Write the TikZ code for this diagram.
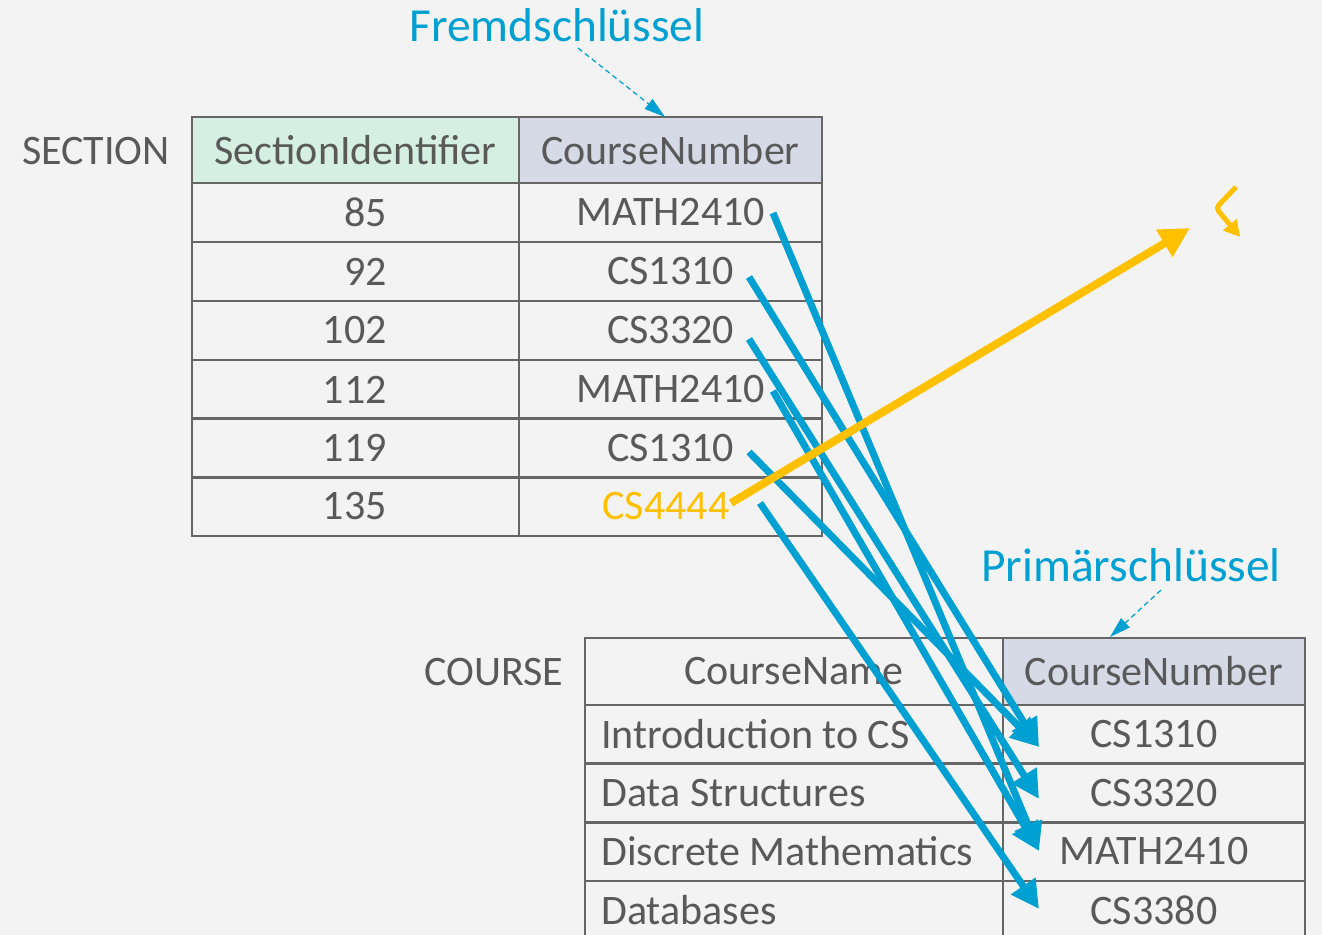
\documentclass[tikz,border=0pt]{standalone}
\usepackage{fontspec}
\setmainfont{Carlito}
\usetikzlibrary{arrows.meta}

\definecolor{keyblue}{RGB}{0,160,210}
\definecolor{badyellow}{RGB}{255,192,0}
\definecolor{textgray}{RGB}{89,89,89}
\definecolor{gridgray}{RGB}{102,102,102}
\definecolor{bggray}{RGB}{243,243,243}
\definecolor{pkgreen}{RGB}{213,240,227}
\definecolor{fklavender}{RGB}{214,218,230}

\tikzset{
  txt/.style={inner sep=0pt, text=textgray, font=\fontsize{23.9}{28}\selectfont},
  cell/.style={txt, draw=gridgray, line width=1.4pt, minimum height=1.18cm},
  keylabel/.style={inner sep=0pt, text=keyblue, font=\fontsize{27}{32}\selectfont},
  callout/.style={keyblue, line width=0.7pt, dash pattern=on 3pt off 2pt,
    -{Triangle[length=0.42cm, width=0.25cm]}},
  fkref/.style={keyblue, line width=0.14cm, -{Triangle[length=0.56cm, width=0.56cm]}},
  badref/.style={badyellow, line width=0.16cm, -{Triangle[length=0.6cm, width=0.6cm]}},
  badsign/.style={badyellow, line width=0.1cm, rounded corners=0.08cm,
    -{Triangle[length=0.32cm, width=0.34cm]}}
}

\begin{document}
\begin{tikzpicture}[x=0.02cm, y=-0.02cm]
  \clip (0,0) rectangle (1322,935);
  \fill[bggray] (0,0) rectangle (1322,935);

  % table SECTION
  \node[txt] (seclabel) at (96,151) {SECTION};
  \node[cell, minimum width=6.54cm, minimum height=1.32cm, fill=pkgreen] (sechead1) at (355.5,150) {SectionIdentifier};
  \node[cell, minimum width=6.06cm, minimum height=1.32cm, fill=fklavender] (sechead2) at (670.5,150) {CourseNumber};
  \foreach \i/\sid/\cn/\y in {1/85/MATH2410/212.5, 2/92/CS1310/271.5, 3/102/CS3320/330.5,
                             4/112/MATH2410/389.5, 5/119/CS1310/448} {
    \node[cell, minimum width=6.54cm] (secid\i) at (355.5,\y) {};
    \node[txt, anchor=east] (secidtext\i) at (387,\y) {\sid};
    \node[cell, minimum width=6.06cm] (seccn\i) at (670.5,\y) {\cn};
  }
  \node[cell, minimum width=6.54cm] (secid6) at (355.5,506.5) {};
  \node[txt, anchor=east] (secidtext6) at (387,506.5) {135};
  \node[cell, minimum width=6.06cm] (seccn6) at (670.5,506.5) {};
  \node[txt, text=badyellow] (secbad) at (666,506.5) {CS4444};

  % table COURSE
  \node[txt] (courselabel) at (494,672) {COURSE};
  \node[cell, minimum width=8.36cm, minimum height=1.34cm] (coursehead1) at (794,671.5) {CourseName};
  \node[cell, minimum width=6.04cm, minimum height=1.34cm, fill=fklavender] (coursehead2) at (1154,671.5) {CourseNumber};
  \foreach \i/\cname/\cn/\y in {1/Introduction to CS/CS1310/734.5, 2/Data Structures/CS3320/793,
                               3/Discrete Mathematics/MATH2410/851.5, 4/Databases/CS3380/910.5} {
    \node[cell, minimum width=8.36cm] (coursename\i) at (794,\y) {};
    \node[txt, anchor=west] (coursenametext\i) at (601,\y) {\cname};
    \node[cell, minimum width=6.04cm] (coursecn\i) at (1154,\y) {\cn};
  }

  % key labels
  \node[keylabel] (fklabel) at (557,25) {Fremdschlüssel};
  \node[keylabel] (pklabel) at (1131,565) {Primärschlüssel};
  \coordinate (fkfrom) at (578,48);
  \coordinate (fkto) at (665,117);
  \coordinate (pkfrom) at (1161,590);
  \coordinate (pkto) at (1110,637);
  \draw[callout] (fkfrom) -- (fkto);
  \draw[callout] (pkfrom) -- (pkto);

  % references
  \coordinate (from85) at (773,213);
  \coordinate (from92) at (749,277);
  \coordinate (from102) at (749,339);
  \coordinate (from112) at (773,391);
  \coordinate (from119) at (749,452);
  \coordinate (from135) at (760,503);
  \coordinate (toCS1310) at (1039,747);
  \coordinate (toCS3320) at (1039,799);
  \coordinate (toMATH2410) at (1039,851);
  \coordinate (toCS3380) at (1039,909);
  \draw[fkref] (from85) -- (toMATH2410);
  \draw[fkref] (from92) -- (toCS1310);
  \draw[fkref] (from102) -- (toCS3320);
  \draw[fkref] (from112) -- (toMATH2410);
  \draw[fkref] (from119) -- (toCS1310);
  \draw[fkref] (from135) -- (toCS3380);

  % dangling reference
  \coordinate (badfrom) at (731,503);
  \coordinate (nowhere) at (1190,228);
  \draw[badref] (badfrom) -- (nowhere);
  \coordinate (sign1) at (1236,187);
  \coordinate (sign2) at (1216,208);
  \coordinate (sign3) at (1240,237);
  \draw[badsign] (sign1) -- (sign2) -- (sign3);
\end{tikzpicture}
\end{document}
